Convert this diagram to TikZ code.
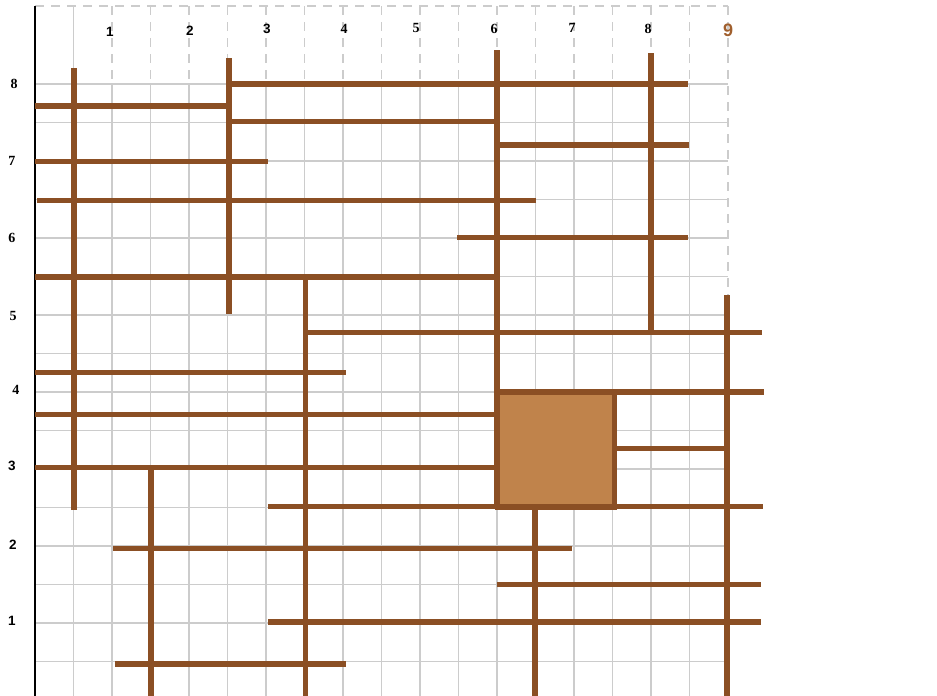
\documentclass[tikz,border=0pt]{standalone}
\usepackage{fontspec}
\setmainfont{Liberation Serif}
\newfontfamily\arialf{Liberation Sans}
\definecolor{stickbrown}{RGB}{139,79,36}
\definecolor{squarefill}{RGB}{192,131,75}
\definecolor{gridgray}{RGB}{204,204,204}
\definecolor{ninebrown}{RGB}{160,95,45}
\begin{document}
\begin{tikzpicture}[x=1pt,y=-1pt,
  stick/.style={draw=stickbrown, line width=5.5pt},
  gridl/.style={draw=gridgray, line width=1.3pt},
  griddash/.style={draw=gridgray, line width=1.3pt, dash pattern=on 9pt off 7pt},
  lbl/.style={font=\fontsize{14}{14}\selectfont\bfseries, inner sep=0pt},
  lbls/.style={font=\arialf\fontsize{13.5}{13.5}\selectfont\bfseries, inner sep=0pt}]
\useasboundingbox[fill=white] (0,0) rectangle (937,696);
% grid
\foreach \k in {1,...,17}{
  \draw[gridl] ({35+38.5*\k},84) -- ({35+38.5*\k},696);
}
\foreach \k in {2,...,17}{
  \draw[griddash] ({35+38.5*\k},6) -- ({35+38.5*\k},84);
}
\draw[gridl] (73.5,6) -- (73.5,84);
\foreach \j in {1,...,16}{
  \draw[gridl] (35,{700-38.5*\j}) -- (728,{700-38.5*\j});
}
\draw[griddash] (35,6) -- (728,6);
\draw[griddash] (728,6) -- (728,295);
\draw[black, line width=1.3pt] (35,6) -- (35,696);
% square
\filldraw[fill=squarefill, draw=stickbrown, line width=5pt] (497,392) rectangle (614,507);
% vertical sticks
\draw[stick] (74,68) -- (74,510);
\draw[stick] (229,58) -- (229,314);
\draw[stick] (305.5,277) -- (305.5,698);
\draw[stick] (151,468) -- (151,698);
\draw[stick] (497,50) -- (497,507);
\draw[stick] (651,53) -- (651,332);
\draw[stick] (727,295) -- (727,698);
\draw[stick] (535,507) -- (535,698);
% horizontal sticks
\draw[stick] (229,84) -- (688,84);
\draw[stick] (35,106) -- (230,106);
\draw[stick] (230,121.5) -- (497,121.5);
\draw[stick] (35,161.5) -- (268,161.5);
\draw[stick] (37,200.5) -- (536,200.5);
\draw[stick] (497,145) -- (689,145);
\draw[stick] (457,237.5) -- (688,237.5);
\draw[stick] (35,277) -- (497,277);
\draw[stick] (305,332.5) -- (762,332.5);
\draw[stick] (35,372.5) -- (346,372.5);
\draw[stick] (497,392) -- (764,392);
\draw[stick] (35,414.5) -- (497,414.5);
\draw[stick] (35,467.5) -- (497,467.5);
\draw[stick] (614,448.5) -- (728,448.5);
\draw[stick] (268,506.5) -- (763,506.5);
\draw[stick] (113,548.5) -- (572,548.5);
\draw[stick] (497,584.5) -- (761,584.5);
\draw[stick] (268,622) -- (761,622);
\draw[stick] (115,664) -- (346,664);
% top labels
\node[lbls] (t1) at (110,32) {1};
\node[lbls] (t2) at (190,31) {2};
\node[lbls] (t3) at (267,29) {3};
\node[lbl] (t4) at (344,29) {4};
\node[lbl] (t5) at (416,28) {5};
\node[lbl] (t6) at (494,29) {6};
\node[lbl] (t7) at (572,28) {7};
\node[lbl] (t8) at (648,29) {8};
\node[lbls, font=\arialf\fontsize{18}{18}\selectfont\bfseries, text=ninebrown] (t9) at (728,30) {9};
% left labels
\node[lbl] (l8) at (14,84) {8};
\node[lbl] (l7) at (12,161) {7};
\node[lbl] (l6) at (12,238) {6};
\node[lbl] (l5) at (13,316) {5};
\node[lbl] (l4) at (16,390) {4};
\node[lbls] (l3) at (12,466) {3};
\node[lbls] (l2) at (13,545) {2};
\node[lbls] (l1) at (12,621) {1};
\end{tikzpicture}
\end{document}
